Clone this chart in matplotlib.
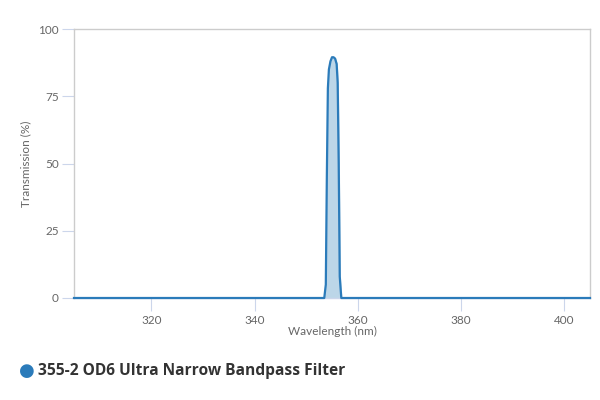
import matplotlib
matplotlib.use("Agg")
import matplotlib.pyplot as plt

# données
wavelength = [305, 353.5, 353.8, 354.0, 354.2, 354.4, 354.7, 355.0, 355.3, 355.6, 355.9, 356.1, 356.3, 356.5, 356.8, 405]
transmission = [0, 0, 5, 45, 78, 85, 88, 89.5, 89.5, 89, 87, 80, 50, 8, 0, 0]
series_name = "355-2 OD6 Ultra Narrow Bandpass Filter"
xticks = [320, 340, 360, 380, 400]
yticks = [0, 25, 50, 75, 100]

blue = "#2b7bba"
grey_txt = "#666666"

plt.rcParams["font.family"] = ["Lato", "DejaVu Sans"]

fig = plt.figure(figsize=(6, 4), dpi=100)
ax = fig.add_axes([74 / 600, 1 - 298 / 400, (590 - 74) / 600, (298 - 29) / 400])

ax.fill_between(wavelength, transmission, 0, color="#bcd6e8", zorder=2)
ax.plot(wavelength, transmission, color=blue, lw=1.6, zorder=3, clip_on=False)

ax.set_xlim(305, 405)
ax.set_ylim(0, 100)
ax.set_xticks(xticks)
ax.set_yticks(yticks)

for s in ["top", "right", "left"]:
    ax.spines[s].set_color("#cccccc")
    ax.spines[s].set_linewidth(1)
ax.spines["bottom"].set_color("#ccd6eb")
ax.spines["bottom"].set_linewidth(1)

ax.tick_params(axis="y", length=9, color="#ccd6eb", labelcolor=grey_txt, labelsize=8.5, pad=2)
ax.tick_params(axis="x", length=9, color="#ccd6eb", labelcolor=grey_txt, labelsize=8.5, pad=3)

ax.set_xlabel("Wavelength (nm)", color=grey_txt, fontsize=8.5, labelpad=0)
ax.set_ylabel("Transmission (%)", color=grey_txt, fontsize=8.5, labelpad=5)

# légende en bas
fig.text(27 / 600, 1 - 371 / 400, "\u25cf", color=blue, fontsize=13, ha="center", va="center",
         family=["DejaVu Sans"])
fig.text(38 / 600, 1 - 371 / 400, series_name, color="#333333", fontsize=11.2,
         fontweight="bold", ha="left", va="center", family=["Open Sans", "DejaVu Sans"])

fig.savefig("out.png", dpi=100)
